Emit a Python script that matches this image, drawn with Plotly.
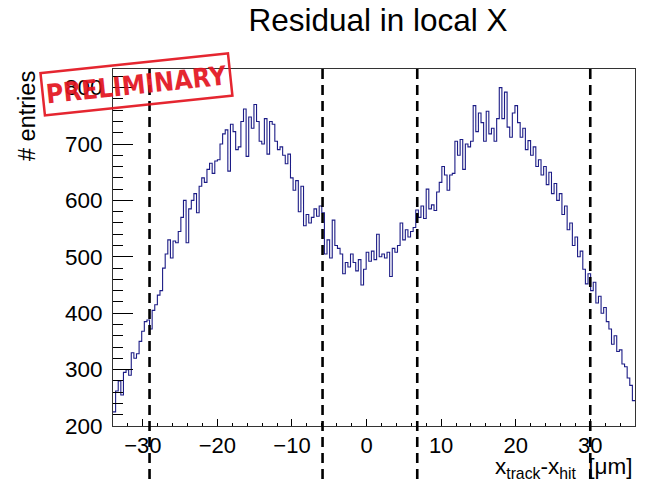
import numpy as np
import plotly.graph_objects as go

# Histogram binning (µm)
X_MIN = -34.0
X_MAX = 36.0
N_BINS = 200

# Bin contents of the residual histogram, left to right
counts = [
    225, 262, 280, 255, 295, 300, 290, 330, 320, 328,
    350, 368, 385, 388, 372, 405, 415, 432, 440, 480,
    505, 530, 498, 528, 525, 545, 570, 600, 525, 585,
    600, 612, 578, 625, 640, 632, 655, 666, 648, 670,
    672, 700, 718, 725, 652, 735, 722, 690, 695, 740,
    762, 678, 748, 728, 770, 740, 705, 700, 745, 682,
    740, 735, 705, 690, 695, 680, 665, 682, 640, 618,
    635, 580, 625, 555, 575, 560, 570, 585, 572, 590,
    578, 505, 530, 498, 565, 520, 515, 505, 470, 490,
    482, 505, 490, 475, 495, 450, 478, 508, 492, 510,
    495, 540, 500, 505, 498, 508, 465, 515, 508, 520,
    560, 530, 548, 535, 545, 552, 583, 570, 590, 568,
    620, 585, 592, 582, 615, 632, 660, 645, 618, 645,
    648, 705, 680, 708, 655, 700, 695, 705, 768, 722,
    755, 738, 705, 758, 718, 728, 705, 745, 800, 745,
    792, 730, 712, 755, 768, 738, 712, 728, 690, 706,
    680, 695, 660, 672, 645, 660, 628, 650, 612, 630,
    600, 612, 575, 590, 548, 560, 520, 535, 500, 510,
    478, 452, 470, 440, 455, 418, 430, 400, 410, 385,
    372, 345, 360, 332, 335, 310, 305, 285, 272, 245,
]

# Boundary positions marked with dashed lines (µm)
boundaries = [-29.1, -5.9, 6.8, 30.0]

# Axis settings
x_range = [X_MIN, X_MAX]
y_range = [200, 833]
x_ticks = [-30, -20, -10, 0, 10, 20, 30]
y_ticks = [200, 300, 400, 500, 600, 700, 800]

edges = np.linspace(X_MIN, X_MAX, N_BINS + 1)
step_y = counts + [counts[-1]]

FONT = "Liberation Sans, Arial, Helvetica, sans-serif"

fig = go.Figure()
fig.add_trace(go.Scatter(
    x=edges, y=step_y, mode="lines", line_shape="hv",
    line=dict(color="#1c1c86", width=1.1),
    hoverinfo="skip", showlegend=False,
))

for xb in boundaries:
    fig.add_shape(
        type="line", xref="x", yref="paper",
        x0=xb, x1=xb, y0=1.0, y1=-0.17,
        line=dict(color="black", width=2.6, dash="10px,6px"),
        layer="above",
    )

fig.update_layout(
    width=654, height=484,
    margin=dict(l=113, r=19, t=69, b=58),
    paper_bgcolor="white", plot_bgcolor="white",
    font=dict(family=FONT, color="black", size=22),
    title=dict(text="Residual in local X", x=(378 - 113) / 522, xref="paper",
               y=1 - 20 / 484, yref="container", yanchor="middle",
               xanchor="center", font=dict(size=31.5, family=FONT)),
    showlegend=False,
)

fig.update_xaxes(
    range=x_range, tickvals=x_ticks, showgrid=False, zeroline=False,
    showline=True, linecolor="#333", linewidth=1, mirror=True,
    ticks="inside", ticklen=7, tickcolor="black", tickwidth=1,
    minor=dict(dtick=2, tick0=0, ticks="inside", ticklen=3.5, tickcolor="black"),
    tickfont=dict(size=22, family=FONT),
)
fig.update_yaxes(
    range=y_range, tickvals=y_ticks, showgrid=False, zeroline=False,
    showline=True, linecolor="#333", linewidth=1, mirror=True,
    ticks="inside", ticklen=20, tickcolor="black", tickwidth=1,
    minor=dict(dtick=20, tick0=0, ticks="inside", ticklen=10, tickcolor="black"),
    tickfont=dict(size=22.5, family=FONT), ticklabelstandoff=5,
)

# Axis titles
fig.add_annotation(
    text="# entries", textangle=-90, xref="paper", yref="paper",
    x=(27 - 113) / 522, y=(426 - 69) / 357, xanchor="center", yanchor="top",
    showarrow=False, font=dict(size=23.5, family=FONT),
)
fig.add_annotation(
    text="x<sub>track</sub>-x<sub>hit</sub>  [μm]", xref="paper", yref="paper",
    x=1.0, y=(426 - 484) / 357, xanchor="right", yanchor="bottom",
    showarrow=False, font=dict(size=22.5, family=FONT),
)

# Preliminary stamp
fig.add_annotation(
    text="<b>PRELIMINARY</b>", xref="paper", yref="paper",
    x=(136 - 113) / 522, y=(426 - 85) / 357, xanchor="center", yanchor="middle",
    showarrow=False, textangle=-6,
    font=dict(size=26.5, family="Liberation Sans Narrow, DejaVu Sans Condensed, sans-serif",
              color="#e3141f"),
    bordercolor="#e3141f", borderwidth=2.5, borderpad=0,
    width=186, height=40, opacity=0.92,
)

fig.write_html("out.html")
